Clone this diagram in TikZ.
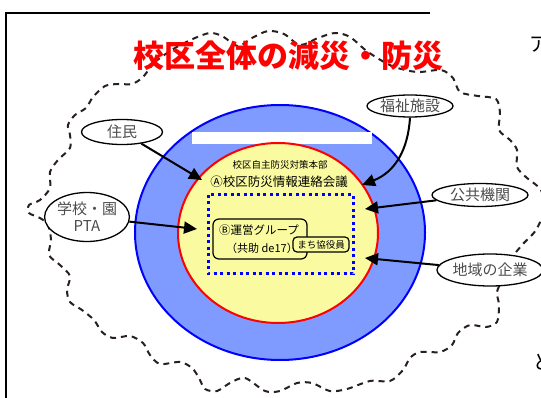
\documentclass[tikz,border=0pt]{standalone}
\usepackage{fontspec}
\newfontfamily\jp{Noto Sans CJK JP}
\usetikzlibrary{shapes.geometric,arrows.meta}
\definecolor{bluefill}{RGB}{128,155,255}
\definecolor{yelfill}{RGB}{250,250,160}
\definecolor{clouddark}{RGB}{40,32,32}
\begin{document}
\begin{tikzpicture}[x=1pt,y=-1pt,
  lab/.style={ellipse,draw=black,line width=1.3pt,fill=white,inner sep=0pt,
    font=\jp\fontsize{15}{17}\selectfont,text=black!70},
  arr/.style={line width=2pt,-{Triangle[length=13pt,width=12pt]}},
  cloudline/.style={draw=clouddark,line width=2pt,dash pattern=on 6pt off 5pt},
  boxr/.style={draw=black,line width=1.2pt,rounded corners=6pt}]
\useasboundingbox (0,0) rectangle (541,398);
\fill[white] (0,0) rectangle (541,398);
% dashed cloud
\draw[cloudline] plot[smooth cycle,tension=0.5] coordinates {
(143,77) (155,62) (175,48) (195,38) (210,33) (222,36) (238,46) (252,38) (268,31)
(284,34) (300,45) (318,38) (335,33) (350,37) (368,52) (392,66) (417,72) (441,70)
(453,78) (460,92) (478,96) (496,99) (500,113) (499,130) (510,140) (517,150)
(517,167) (527,178) (541,190) (544,210) (536,230) (522,245) (512,258) (503,278)
(497,292) (499,305) (497,322) (486,327) (470,325) (458,333) (452,345) (440,352)
(420,352) (410,358) (403,370) (390,381) (370,381) (347,389) (330,391) (312,383)
(297,383) (280,391) (265,391) (245,378) (230,383) (217,391) (205,389) (199,378)
(192,368) (180,362) (160,364) (150,355) (143,343) (130,336) (113,338) (102,332)
(94,320) (82,310) (70,302) (67,290) (70,276) (60,265) (49,255) (51,240) (48,225)
(40,218) (29,213) (29,205) (40,200) (50,188) (50,172) (58,160) (70,148) (70,135)
(68,125) (75,115) (86,108) (93,97) (105,86) (118,84) (132,84)};
% circles
\draw[blue,line width=2pt,fill=bluefill] (280,232.5) ellipse [x radius=145,y radius=127.5];
\fill[white] (192,132) rectangle (372,144);
\draw[red,line width=2pt,fill=yelfill] (278,233) ellipse [x radius=100,y radius=90];
% inner texts
\node (hq) at (280,165) {\jp\fontsize{9.5}{10}\selectfont 校区自主防災対策本部};
\node (kaigi) at (279,182) {\jp\fontsize{12.5}{13}\selectfont Ⓐ校区防災情報連絡会議};
\draw[blue,line width=3pt,dash pattern=on 3pt off 3.5pt] (208,195) rectangle (353,274);
\draw[boxr] (213,219) rectangle (307,259);
\node (unei) at (259,230) {\jp\fontsize{11.5}{12}\selectfont Ⓑ運営グループ};
\node (kyojo) at (262,248) {\jp\fontsize{11}{12}\selectfont （共助 de17）};
\node[draw=black,line width=1.2pt,rounded corners=4pt,fill=yelfill,minimum width=56pt,
  minimum height=15pt,inner sep=0pt] (machi) at (321,244.5) {\jp\fontsize{9.5}{10}\selectfont まち協役員};
% label ellipses
\node[lab,minimum width=81pt,minimum height=25pt] (jumin) at (122,132) {住民};
\node[lab,minimum width=86pt,minimum height=22pt] (fukushi) at (410,106) {福祉施設};
\node[lab,minimum width=96pt,minimum height=23pt] (koukyou) at (480,195) {公共機関};
\node[lab,minimum width=96pt,minimum height=32pt] (kigyou) at (490,270) {地域の企業};
\node[lab,minimum width=83pt,minimum height=49pt,align=center] (gakkou) at (87,217) {学校・園\\PTA};
% arrow tips
\coordinate (t1) at (202,180);
\coordinate (t2) at (197,229);
\coordinate (t3) at (362,185);
\coordinate (t4) at (365,209);
\coordinate (t5) at (365,258);
\draw[arr] (jumin) -- (t1);
\draw[arr] (gakkou) -- (t2);
\draw[arr] (fukushi.south) .. controls (408,150) and (395,172) .. (t3);
\draw[arr] (koukyou) -- (t4);
\draw[arr] (kigyou) -- (t5);
% title
\node[text=red] (title) at (288,56) {\jp\bfseries\fontsize{31}{31}\selectfont 校区全体の減災・防災};
% frame
\draw[line width=2pt] (430,13) -- (6,13) -- (6,400);
% cut-off text at right edge
\node[anchor=west,inner sep=0pt] (fragA) at (529,45) {\jp\fontsize{20}{20}\selectfont ア};
\node[anchor=west,inner sep=0pt] (fragB) at (533,362) {\jp\fontsize{20}{20}\selectfont ど};
\end{tikzpicture}
\end{document}
